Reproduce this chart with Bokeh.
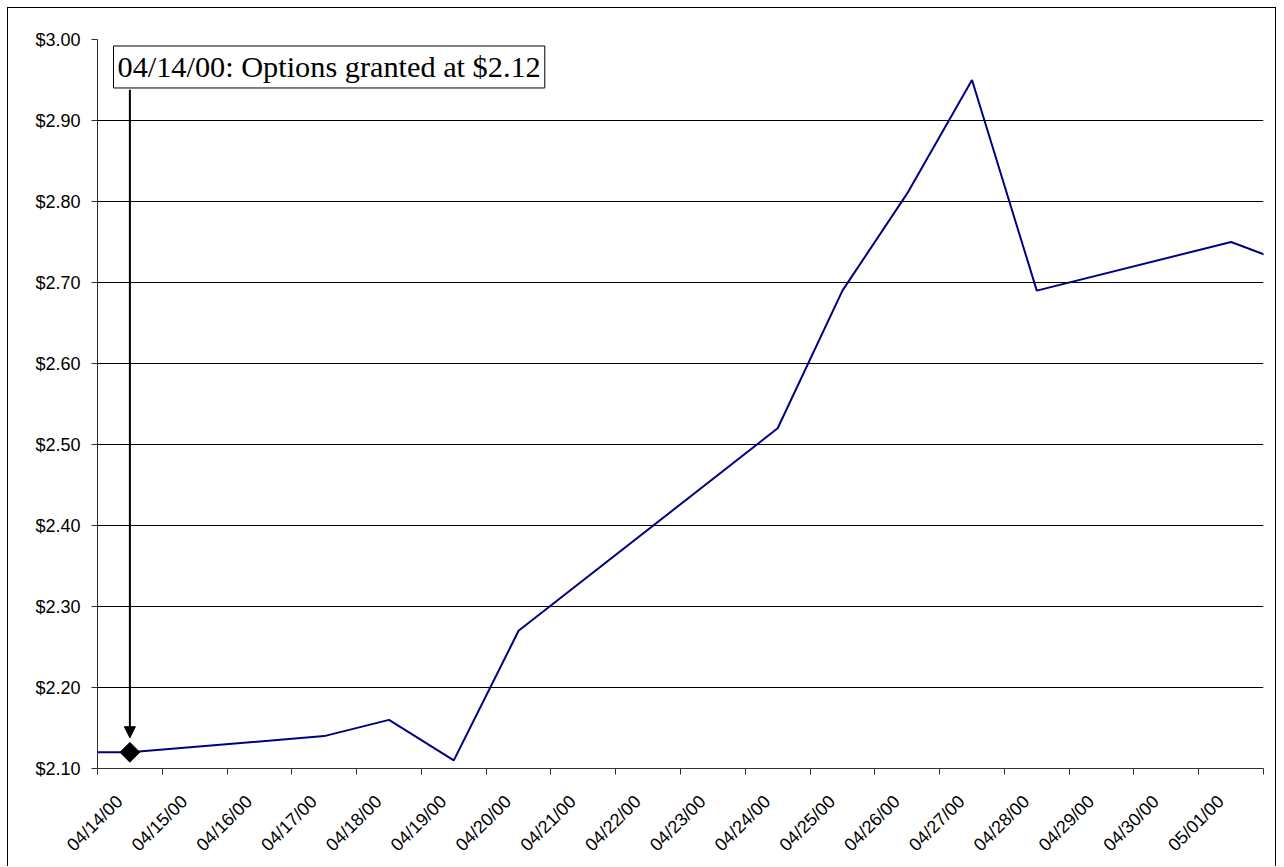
import math

from bokeh.embed import file_html
from bokeh.models import (Arrow, FixedTicker, Label, NormalHead,
                          NumeralTickFormatter, Range1d)
from bokeh.plotting import figure
from bokeh.resources import INLINE

# Calendar days shown on the category axis
day_labels = ["04/14/00", "04/15/00", "04/16/00", "04/17/00", "04/18/00",
              "04/19/00", "04/20/00", "04/21/00", "04/22/00", "04/23/00",
              "04/24/00", "04/25/00", "04/26/00", "04/27/00", "04/28/00",
              "04/29/00", "04/30/00", "05/01/00"]

# Closing prices by trading day (day offset from 04/14/00)
trade_day = [-1, 0, 3, 4, 5, 6, 10, 11, 12, 13, 14, 17, 18]
close_price = [2.12, 2.12, 2.14, 2.16, 2.11, 2.27, 2.52, 2.69, 2.81, 2.95,
               2.69, 2.75, 2.72]

# Grant marker
grant_day = [0]
grant_price = [2.12]
grant_text = "04/14/00: Options granted at $2.12"

price_ticks = [2.10, 2.20, 2.30, 2.40, 2.50, 2.60, 2.70, 2.80, 2.90, 3.00]

p = figure(width=1269, height=859, output_backend="svg", toolbar_location=None,
           x_range=Range1d(-0.5, len(day_labels) - 0.5),
           y_range=Range1d(2.10, 3.00),
           min_border_left=89, min_border_top=31, min_border_right=14,
           min_border_bottom=99)
p.styles = {"margin-left": "7px", "margin-top": "7px",
            "border-left": "1px solid black", "border-top": "1px solid black",
            "border-right": "1px solid black"}
p.outline_line_color = None
p.background_fill_color = "white"
p.border_fill_color = "white"

# Tick marks sit on the category boundaries (drawn as minor ticks); the
# date labels hang from just right of each day's left boundary.
bounds = [i - 0.5 for i in range(len(day_labels) + 1)]
label_pos = [i - 0.16 for i in range(len(day_labels))]
p.xaxis.ticker = FixedTicker(ticks=label_pos, minor_ticks=bounds)
p.xaxis.major_label_overrides = {pos: day_labels[i] for i, pos in enumerate(label_pos)}
p.xaxis.major_label_orientation = math.pi / 4
p.xgrid.visible = False

p.yaxis.ticker = FixedTicker(ticks=price_ticks)
p.yaxis.formatter = NumeralTickFormatter(format="$0.00")
p.ygrid.ticker = FixedTicker(ticks=price_ticks)
p.ygrid.grid_line_color = "black"
p.ygrid.grid_line_width = 1

for ax in (p.xaxis[0], p.yaxis[0]):
    ax.axis_line_color = "#303030"
    ax.major_tick_line_color = "#303030"
    ax.major_tick_out = 6
    ax.major_tick_in = 0
    ax.minor_tick_line_color = None
    ax.major_label_text_font = "Liberation Sans"
    ax.major_label_text_font_size = "18px"
    ax.major_label_text_color = "black"
p.yaxis.major_label_standoff = 11

p.xaxis.major_tick_line_color = None
p.xaxis.major_tick_out = 0
p.xaxis.minor_tick_line_color = "#303030"
p.xaxis.minor_tick_out = 6
p.xaxis.minor_tick_in = 0
p.xaxis.major_label_standoff = 24

p.line(trade_day, close_price, line_color="#000080", line_width=2)
p.scatter(grant_day, grant_price, marker="square", angle=math.pi / 4,
          size=14, fill_color="black", line_color="black")

p.add_layout(Arrow(end=NormalHead(size=11, fill_color="black", line_color="black"),
                   x_start=grant_day[0], y_start=2.938,
                   x_end=grant_day[0], y_end=2.138,
                   line_color="black", line_width=2))

p.add_layout(Label(x=-0.253, y=2.992, text=grant_text,
                   text_font="Liberation Serif", text_font_size="30.3px",
                   text_color="black",
                   text_align="left", text_baseline="top",
                   padding=4, border_line_color="black", border_line_width=1,
                   background_fill_color="white"))

open("out.html", "w").write(file_html(p, INLINE))
